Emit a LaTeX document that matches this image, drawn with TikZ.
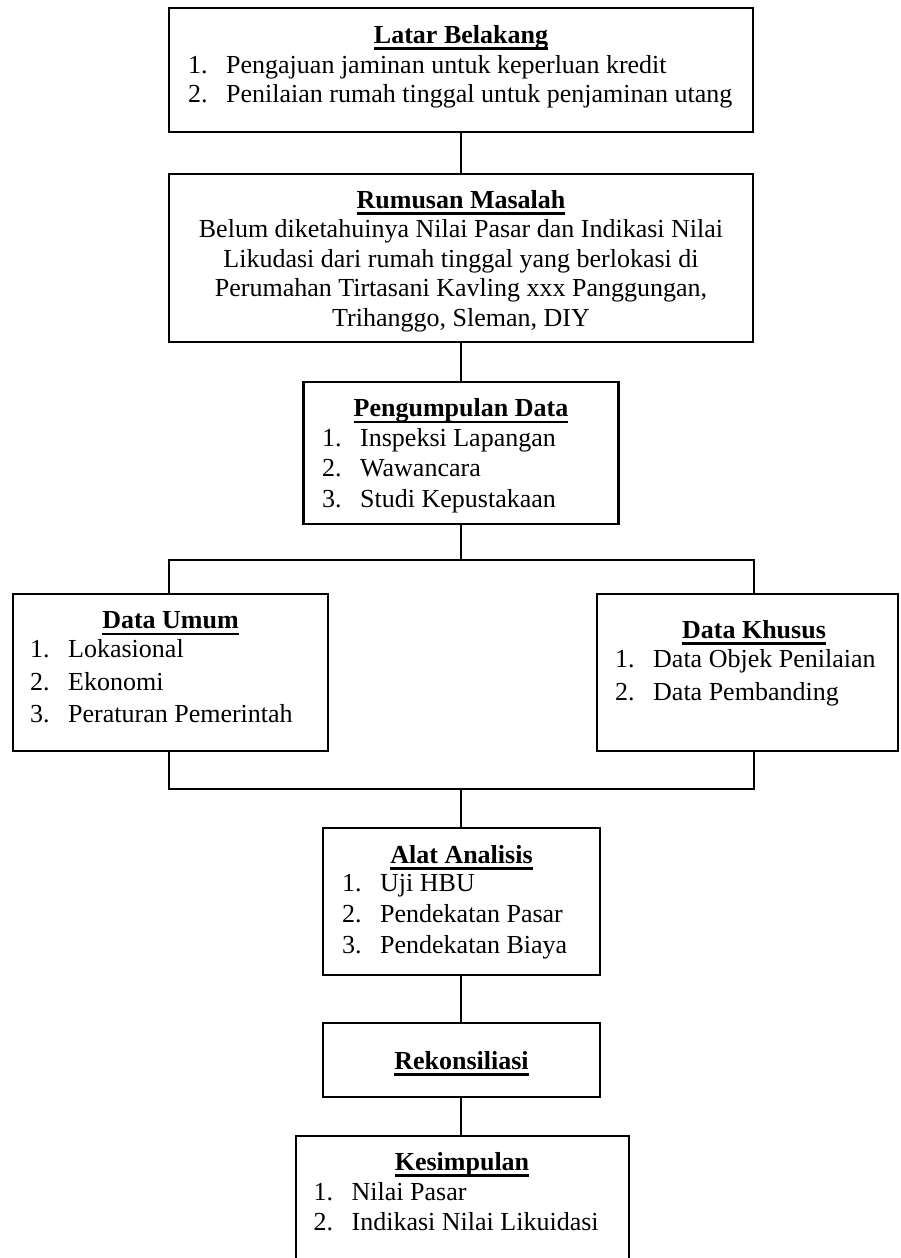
\documentclass[tikz,border=0pt]{standalone}
\usepackage{fontspec}
\setmainfont{Liberation Serif}
\newcommand{\hdul}[1]{\setbox0\hbox{#1}\rlap{\rule[-6.5pt]{\wd0}{2.2pt}}\box0}
\newcommand{\itm}[2]{\makebox[38pt][l]{#1}#2}
\tikzset{
  box/.style={draw, line width=2.3pt, inner sep=0pt, rectangle},
  conn/.style={line width=2.3pt},
  hd/.style={anchor=base, inner sep=0pt, font=\fontsize{26}{30}\selectfont\bfseries},
  ctr/.style={anchor=base, inner sep=0pt},
  li/.style={anchor=base west, inner sep=0pt},
}
\begin{document}
\begin{tikzpicture}[x=1pt, y=-1pt, font=\fontsize{26}{30}\selectfont]
\useasboundingbox (0,0) rectangle (900,1258);
\clip (0,0) rectangle (900,1258);
% boxes
\node[box, minimum width=584pt, minimum height=124pt] (lb) at (461,70) {};
\node[box, minimum width=584pt, minimum height=168pt] (rm) at (461,258) {};
\node[box, minimum width=315pt, minimum height=142pt] (pd) at (461,453) {};
\node[box, minimum width=315pt, minimum height=157pt] (du) at (170.5,672.5) {};
\node[box, minimum width=301pt, minimum height=157pt] (dk) at (747.5,672.5) {};
\node[box, minimum width=277pt, minimum height=147pt] (aa) at (461.5,901.5) {};
\node[box, minimum width=277pt, minimum height=74pt] (rk) at (461.5,1060) {};
\node[box, minimum width=333pt, minimum height=154pt] (ks) at (462.5,1213) {};
% junctions
\coordinate (j1) at (461,560);
\coordinate (j2) at (461,789);
% connectors
\draw[conn] (lb.south) -- (rm.north);
\draw[conn] (rm.south) -- (pd.north);
\draw[conn] (pd.south) -- (j1);
\draw[conn] ([xshift=-1.5pt]du.north) |- (j1) -| ([xshift=6.5pt]dk.north);
\draw[conn] ([xshift=-1.5pt]du.south) |- (j2) -| ([xshift=6.5pt]dk.south);
\draw[conn] (j2) -- (j2 |- aa.north);
\draw[conn] (aa.south -| j2) -- (rk.north -| j2);
\draw[conn] (rk.south -| j2) -- (ks.north -| j2);
% Latar Belakang
\node[hd] (t1) at (461,43) {\hdul{Latar Belakang}};
\node[li] (t1a) at (188,73) {\itm{1.}{Pengajuan jaminan untuk keperluan kredit}};
\node[li] (t1b) at (188,102) {\itm{2.}{Penilaian rumah tinggal untuk penjaminan utang}};
% Rumusan Masalah
\node[hd] (t2) at (461,208) {\hdul{Rumusan Masalah}};
\node[ctr] (t2a) at (461,237) {Belum diketahuinya Nilai Pasar dan Indikasi Nilai};
\node[ctr] (t2b) at (461,267) {Likudasi dari rumah tinggal yang berlokasi di};
\node[ctr] (t2c) at (461,296.5) {Perumahan Tirtasani Kavling xxx Panggungan,};
\node[ctr] (t2d) at (461,326) {Trihanggo, Sleman, DIY};
% Pengumpulan Data
\node[hd] (t3) at (461,416.5) {\hdul{Pengumpulan Data}};
\node[li] (t3a) at (322,446) {\itm{1.}{Inspeksi Lapangan}};
\node[li] (t3b) at (322,476) {\itm{2.}{Wawancara}};
\node[li] (t3c) at (322,507) {\itm{3.}{Studi Kepustakaan}};
% Data Umum
\node[hd] (t4) at (170.5,628.5) {\hdul{Data Umum}};
\node[li] (t4a) at (30,657) {\itm{1.}{Lokasional}};
\node[li] (t4b) at (30,690) {\itm{2.}{Ekonomi}};
\node[li] (t4c) at (30,722) {\itm{3.}{Peraturan Pemerintah}};
% Data Khusus
\node[hd] (t5) at (754,638) {\hdul{Data Khusus}};
\node[li] (t5a) at (615,667) {\itm{1.}{Data Objek Penilaian}};
\node[li] (t5b) at (615,700) {\itm{2.}{Data Pembanding}};
% Alat Analisis
\node[hd] (t6) at (461.5,863) {\hdul{Alat Analisis}};
\node[li] (t6a) at (342,891) {\itm{1.}{Uji HBU}};
\node[li] (t6b) at (342,922) {\itm{2.}{Pendekatan Pasar}};
\node[li] (t6c) at (342,953) {\itm{3.}{Pendekatan Biaya}};
% Rekonsiliasi
\node[hd] (t7) at (461.5,1069) {\hdul{Rekonsiliasi}};
% Kesimpulan
\node[hd] (t8) at (462,1170) {\hdul{Kesimpulan}};
\node[li] (t8a) at (313.5,1200) {\itm{1.}{Nilai Pasar}};
\node[li] (t8b) at (313.5,1230) {\itm{2.}{Indikasi Nilai Likuidasi}};
\end{tikzpicture}
\end{document}
